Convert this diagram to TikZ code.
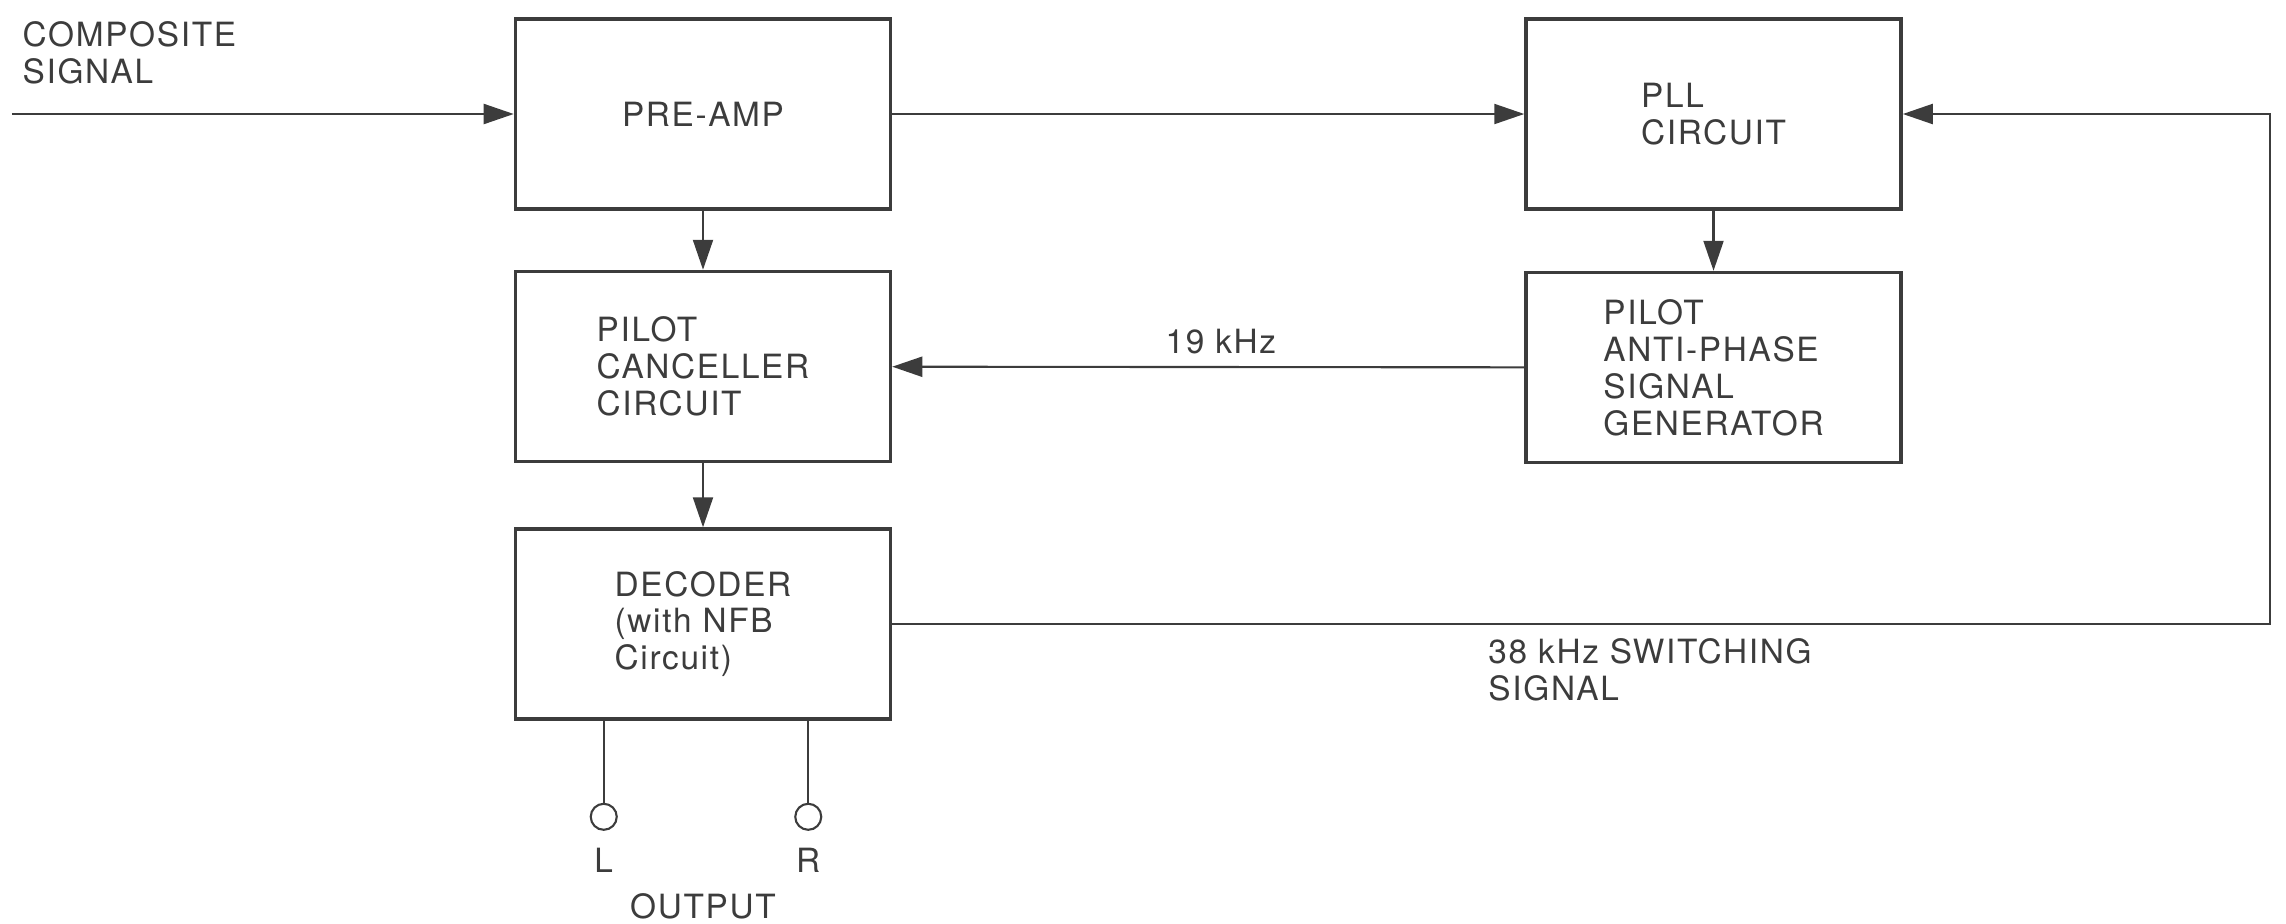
\documentclass[tikz,border=0pt]{standalone}
\usepackage{fontspec}
\setmainfont{TeX Gyre Heros}[LetterSpace=5]
\usepackage{tikz}
\usetikzlibrary{arrows.meta, positioning}
\definecolor{inkgray}{RGB}{60, 60, 60}
\newcommand{\diagfont}{\fontsize{9.5}{10.5}\selectfont}

\begin{document}
\begin{tikzpicture}[
    basebox/.style={rectangle, draw=inkgray, line width=1pt, minimum width=3.75cm, minimum height=1.9cm, align=left, text=inkgray, font=\diagfont},
    lbl/.style={text=inkgray, font=\diagfont, align=left},
    term/.style={circle, draw=inkgray, line width=0.6pt, minimum size=0.26cm, inner sep=0pt},
    arr/.style={-{Triangle[length=3mm,width=2mm]}, line width=0.6pt, color=inkgray},
    wire/.style={line width=0.6pt, color=inkgray}
  ]
  \useasboundingbox (0,0) rectangle (22.86,-9.23);
  \node[basebox] (preamp) at (7.03,-1.14) {PRE-AMP};
  \node[basebox, below=0.59cm of preamp] (cancel) {PILOT\\CANCELLER\\CIRCUIT};
  \node[basebox, below=0.64cm of cancel] (decoder) {DECODER\\(with NFB\\Circuit)};
  \node[basebox, right=6.32cm of preamp] (pll) {PLL\\CIRCUIT};
  \node[basebox, below=0.6cm of pll] (antiphase) {PILOT\\ANTI-PHASE\\SIGNAL\\GENERATOR};
  \node[lbl, anchor=north west, inner sep=0pt] (composite) at (0.22,-0.21) {COMPOSITE\\SIGNAL};
  \coordinate (src) at (0.12,-1.14);
  \coordinate (rail) at (22.70,0);
  % signal path
  \draw[arr] (src) -- (preamp);
  \draw[arr] (preamp) -- (pll);
  \draw[arr] (preamp) -- (cancel);
  \draw[arr] (cancel) -- (decoder);
  \draw[arr] (pll) -- (antiphase);
  \draw[arr] (antiphase) -- node[lbl, above, pos=0.48] (pilotlbl) {19 kHz} (cancel);
  \draw[arr] (decoder.east) -- node[lbl, below, pos=0.55, yshift=-0.02cm] (switchlbl) {38 kHz SWITCHING\\SIGNAL} (decoder.east -| rail) |- (pll.east);
  % outputs
  \node[term] (outl) at ([xshift=0.9cm, yshift=-0.96cm]decoder.south west) {};
  \node[term] (outr) at ([xshift=-0.84cm, yshift=-0.96cm]decoder.south east) {};
  \draw[wire] (decoder.south -| outl) -- (outl);
  \draw[wire] (decoder.south -| outr) -- (outr);
  \node[lbl, below=0.05cm of outl] (labl) {L};
  \node[lbl, below=0.05cm of outr] (labr) {R};
  \node[lbl, inner sep=0pt] (outtxt) at ([yshift=-1.86cm]decoder.south) {OUTPUT};
\end{tikzpicture}
\end{document}
